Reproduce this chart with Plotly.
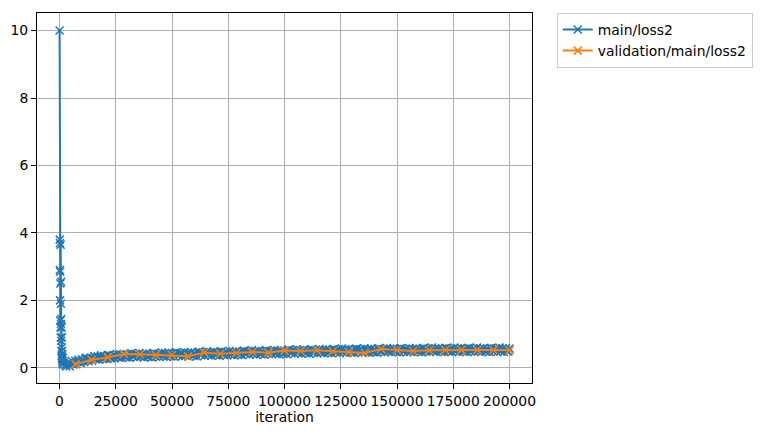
import plotly.graph_objects as go

# ========= palette (matplotlib default) =========
BLUE = "#1f77b4"
ORANGE = "#ff7f0e"
GRID = "#b0b0b0"
FONT = "DejaVu Sans"

# ========= data =========
# main/loss2: dense log during the first spike, then every 500 iterations
main_iter_early = [50, 100, 150, 200, 250, 300, 350, 400, 450, 500,
                   550, 600, 650, 700, 750, 800, 850, 900, 950, 1000,
                   1050, 1100, 1150, 1200, 1250, 1300, 1350, 1400, 1450]
main_loss_early = [10.0, 3.8, 2.9, 3.7, 2.0, 2.85, 1.4, 2.5, 1.2, 3.65,
                   0.9, 1.9, 1.3, 2.55, 0.8, 1.45, 0.5, 1.2, 0.35, 0.6,
                   0.9, 0.3, 0.5, 0.25, 0.4, 0.2, 0.15, 0.3, 0.1]
main_iter_late = list(range(2000, 200500, 500))
main_loss_late = [
    # 2000 - 11500
    0.16, 0.08, 0.04, 0.12, 0.14, 0.05, 0.13, 0.20, 0.10, 0.14, 0.21, 0.11, 0.19, 0.24, 0.16, 0.15, 0.25, 0.22, 0.17, 0.28,
    # 12000 - 21500
    0.30, 0.22, 0.20, 0.28, 0.30, 0.21, 0.29, 0.35, 0.25, 0.29, 0.34, 0.24, 0.32, 0.37, 0.28, 0.26, 0.35, 0.32, 0.26, 0.37,
    # 22000 - 31500
    0.38, 0.30, 0.28, 0.36, 0.37, 0.28, 0.35, 0.41, 0.31, 0.34, 0.40, 0.29, 0.37, 0.42, 0.33, 0.31, 0.40, 0.37, 0.30, 0.41,
    # 32000 - 41500
    0.43, 0.35, 0.32, 0.40, 0.41, 0.31, 0.38, 0.44, 0.33, 0.36, 0.42, 0.31, 0.39, 0.43, 0.34, 0.32, 0.41, 0.38, 0.31, 0.42,
    # 42000 - 51500
    0.44, 0.36, 0.33, 0.41, 0.42, 0.32, 0.39, 0.45, 0.34, 0.37, 0.44, 0.33, 0.41, 0.45, 0.36, 0.34, 0.43, 0.40, 0.33, 0.44,
    # 52000 - 61500
    0.46, 0.38, 0.35, 0.43, 0.44, 0.34, 0.41, 0.47, 0.36, 0.39, 0.45, 0.34, 0.42, 0.46, 0.37, 0.35, 0.44, 0.41, 0.34, 0.45,
    # 62000 - 71500
    0.48, 0.40, 0.37, 0.45, 0.46, 0.36, 0.43, 0.49, 0.38, 0.41, 0.47, 0.36, 0.44, 0.48, 0.39, 0.37, 0.46, 0.43, 0.36, 0.47,
    # 72000 - 81500
    0.49, 0.41, 0.38, 0.46, 0.47, 0.37, 0.44, 0.50, 0.39, 0.42, 0.48, 0.37, 0.45, 0.49, 0.40, 0.38, 0.47, 0.44, 0.37, 0.48,
    # 82000 - 91500
    0.51, 0.43, 0.40, 0.48, 0.49, 0.39, 0.46, 0.52, 0.41, 0.44, 0.50, 0.39, 0.47, 0.51, 0.42, 0.40, 0.49, 0.46, 0.39, 0.50,
    # 92000 - 101500
    0.52, 0.44, 0.41, 0.49, 0.50, 0.40, 0.47, 0.53, 0.42, 0.45, 0.51, 0.40, 0.48, 0.52, 0.43, 0.41, 0.50, 0.47, 0.40, 0.51,
    # 102000 - 111500
    0.54, 0.46, 0.43, 0.51, 0.52, 0.42, 0.49, 0.55, 0.44, 0.47, 0.53, 0.42, 0.50, 0.54, 0.45, 0.43, 0.52, 0.49, 0.42, 0.53,
    # 112000 - 121500
    0.55, 0.47, 0.44, 0.52, 0.53, 0.43, 0.50, 0.56, 0.45, 0.48, 0.54, 0.43, 0.51, 0.55, 0.46, 0.44, 0.53, 0.50, 0.43, 0.54,
    # 122000 - 131500
    0.56, 0.48, 0.45, 0.53, 0.54, 0.44, 0.51, 0.57, 0.46, 0.49, 0.55, 0.44, 0.52, 0.56, 0.47, 0.45, 0.54, 0.51, 0.44, 0.55,
    # 132000 - 141500
    0.57, 0.49, 0.46, 0.54, 0.55, 0.45, 0.52, 0.58, 0.47, 0.50, 0.56, 0.45, 0.53, 0.57, 0.48, 0.46, 0.55, 0.52, 0.45, 0.56,
    # 142000 - 151500
    0.58, 0.50, 0.47, 0.55, 0.56, 0.46, 0.53, 0.59, 0.48, 0.51, 0.57, 0.46, 0.54, 0.58, 0.49, 0.47, 0.56, 0.53, 0.46, 0.57,
    # 152000 - 161500
    0.58, 0.50, 0.47, 0.55, 0.56, 0.46, 0.53, 0.59, 0.48, 0.51, 0.57, 0.46, 0.54, 0.58, 0.49, 0.47, 0.56, 0.53, 0.46, 0.57,
    # 162000 - 171500
    0.59, 0.51, 0.48, 0.56, 0.57, 0.47, 0.54, 0.60, 0.49, 0.52, 0.58, 0.47, 0.55, 0.59, 0.50, 0.48, 0.57, 0.54, 0.47, 0.58,
    # 172000 - 181500
    0.59, 0.51, 0.48, 0.56, 0.57, 0.47, 0.54, 0.60, 0.49, 0.52, 0.58, 0.47, 0.55, 0.59, 0.50, 0.48, 0.57, 0.54, 0.47, 0.58,
    # 182000 - 191500
    0.59, 0.51, 0.48, 0.56, 0.57, 0.47, 0.54, 0.60, 0.49, 0.52, 0.58, 0.47, 0.55, 0.59, 0.50, 0.48, 0.57, 0.54, 0.47, 0.58,
    # 192000 - 200000
    0.59, 0.51, 0.48, 0.56, 0.57, 0.47, 0.54, 0.60, 0.49, 0.52, 0.58, 0.47, 0.55, 0.59, 0.50, 0.48, 0.57,
]

# validation/main/loss2: once per epoch
val_iter = [7143, 14286, 21429, 28571, 35714, 42857, 50000, 57143, 64286, 71429,
            78571, 85714, 92857, 100000, 107143, 114286, 121429, 128571, 135714, 142857,
            150000, 157143, 164286, 171429, 178571, 185714, 192857, 200000]
val_loss = [0.11, 0.24, 0.31, 0.41, 0.40, 0.38, 0.38, 0.34, 0.45, 0.42,
            0.44, 0.47, 0.45, 0.51, 0.50, 0.52, 0.49, 0.47, 0.44, 0.56,
            0.53, 0.50, 0.52, 0.53, 0.53, 0.53, 0.53, 0.52]

x_ticks = [0, 25000, 50000, 75000, 100000, 125000, 150000, 175000, 200000]
y_ticks = [0, 2, 4, 6, 8, 10]

# ========= figure =========
fig = go.Figure()
fig.add_trace(go.Scatter(
    x=main_iter_early + main_iter_late,
    y=main_loss_early + main_loss_late,
    mode="lines+markers", name="main/loss2",
    line=dict(color=BLUE, width=2),
    marker=dict(symbol="x-thin", size=8, line=dict(color=BLUE, width=1.5)),
))
fig.add_trace(go.Scatter(
    x=val_iter, y=val_loss,
    mode="lines+markers", name="validation/main/loss2",
    line=dict(color=ORANGE, width=2),
    marker=dict(symbol="x-thin", size=8, line=dict(color=ORANGE, width=1.5)),
))

axis_common = dict(
    showgrid=True, gridcolor=GRID, gridwidth=1,
    showline=True, linecolor="black", linewidth=1, mirror=True,
    ticks="outside", ticklen=5, tickwidth=1, tickcolor="black",
    zeroline=False,
    tickfont=dict(family=FONT, size=13.9, color="black"),
)
fig.update_xaxes(
    range=[-10000, 210000], tickvals=x_ticks, tickformat="d",
    title=dict(text="iteration", font=dict(family=FONT, size=13.9, color="black"), standoff=4),
    **axis_common,
)
fig.update_yaxes(range=[-0.45, 10.52], tickvals=y_ticks, **axis_common)

fig.update_layout(
    width=766, height=436,
    margin=dict(l=37, r=234, t=13, b=53),
    plot_bgcolor="white", paper_bgcolor="white",
    font=dict(family=FONT, size=13.9, color="black"),
    legend=dict(
        x=1.05, y=1.0, xanchor="left", yanchor="top",
        bordercolor="#cccccc", borderwidth=1, bgcolor="white",
        font=dict(family=FONT, size=13.9, color="black"),
        tracegroupgap=0,
    ),
    showlegend=True,
)

# page body margin off so the figure sits at the window corner
fig.write_html(
    "out.html",
    config={"displayModeBar": False},
    post_script="document.body.style.margin='0';",
)
